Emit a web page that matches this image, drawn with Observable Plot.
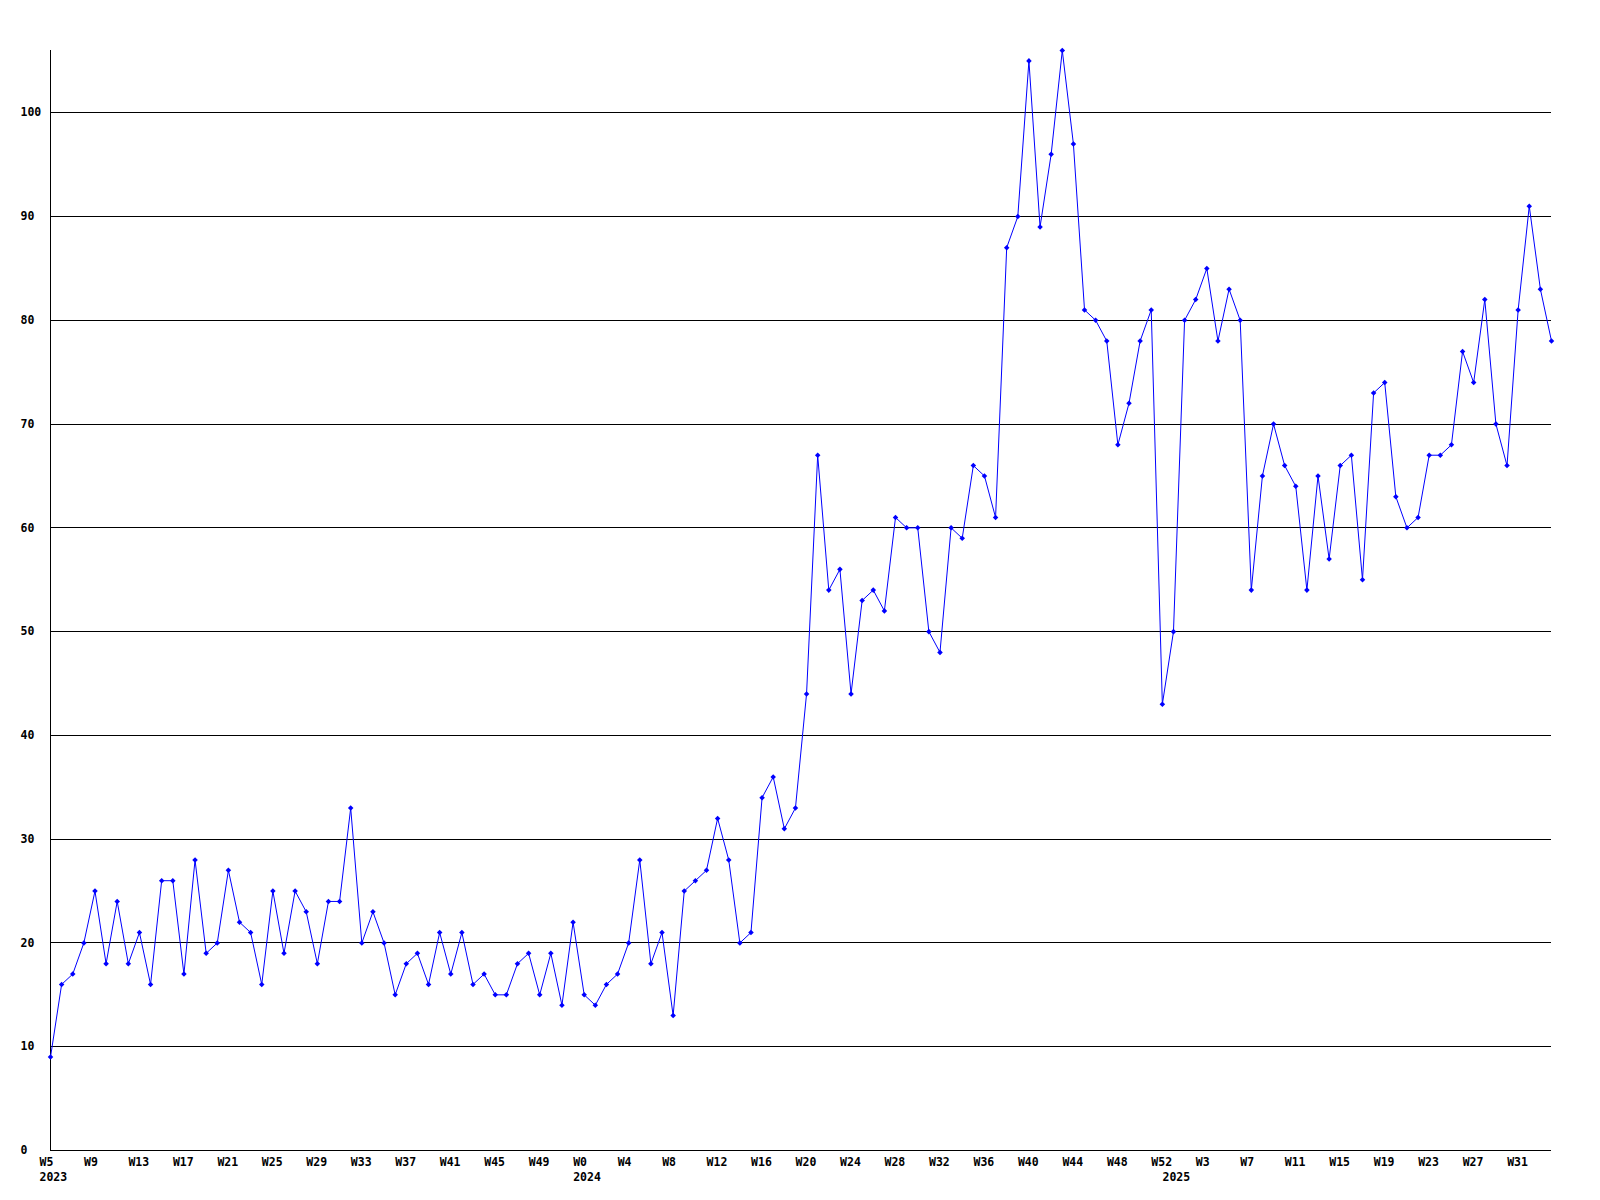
<!DOCTYPE html>
<html>
<head>
<meta charset="utf-8">
<script src="https://cdn.jsdelivr.net/npm/d3@7"></script>
<script src="https://cdn.jsdelivr.net/npm/@observablehq/plot@0.6"></script>
<style>
  body { margin: 0; background: #ffffff; }
</style>
</head>
<body>
<div id="chart"></div>
<script>
// Weekly values, one per week starting 2023 W5
const values = [
  9, 16, 17, 20, 25, 18, 24, 18, 21, 16, 26, 26, 17, 28, 19, 20, 27, 22, 21, 16, 25, 19, 25, 23, 18, 24, 24, 33, 20, 23, 20, 15,
  18, 19, 16, 21, 17, 21, 16, 17, 15, 15, 18, 19, 15, 19, 14, 22, 15, 14, 16, 17, 20, 28, 18, 21, 13, 25, 26, 27, 32, 28, 20, 21, 34, 36,
  31, 33, 44, 67, 54, 56, 44, 53, 54, 52, 61, 60, 60, 50, 48, 60, 59, 66, 65, 61,
  87, 90, 105, 89, 96, 106, 97, 81, 80, 78, 68, 72, 78, 81, 43, 50, 80, 82, 85,
  78, 83, 80, 54, 65, 70, 66, 64, 54, 65, 57, 66, 67, 55, 73, 74, 63, 60,
  61, 67, 67, 68, 77, 74, 82, 70, 66, 81, 91, 83, 78
];

// X tick labels, one every 4 weeks
const xTickLabels = [
  "W5", "W9", "W13", "W17", "W21", "W25", "W29", "W33", "W37", "W41", "W45", "W49",
  "W0", "W4", "W8", "W12", "W16", "W20", "W24", "W28", "W32", "W36", "W40", "W44", "W48", "W52",
  "W3", "W7", "W11", "W15", "W19", "W23", "W27", "W31"
];
const xTickStep = 4;

// Year labels and the week index where they sit
const yearLabels = ["2023", "2024", "2025"];
const yearLabelWeek = [0, 48, 101];

// Y ticks
const yTicks = [0, 10, 20, 30, 40, 50, 60, 70, 80, 90, 100];

const data = values.map((v, i) => ({ i, v }));
const xTicks = xTickLabels.map((label, k) => ({ i: k * xTickStep, label }));
const years = yearLabels.map((label, k) => ({ i: yearLabelWeek[k], label }));
const lastIndex = values.length - 1;
const yMax = d3.max(values);

const rhombus = {
  draw(context, size) {
    const s = Math.sqrt(size) * 0.78;
    context.moveTo(0, -s);
    context.lineTo(s, 0);
    context.lineTo(0, s);
    context.lineTo(-s, 0);
    context.closePath();
  }
};

const chart = Plot.plot({
  width: 1600,
  height: 1200,
  marginLeft: 50,
  marginRight: 49,
  marginTop: 50,
  marginBottom: 50,
  x: { domain: [0, lastIndex], axis: null },
  y: { domain: [0, yMax], axis: null },
  style: {
    fontFamily: "'DejaVu Sans Mono', monospace",
    fontSize: "11.5px",
    fontWeight: "bold",
    background: "#ffffff",
    overflow: "visible"
  },
  marks: [
    Plot.ruleY(yTicks.filter(d => d > 0), { x1: 0, x2: lastIndex, stroke: "#000000", strokeWidth: 1, strokeOpacity: 1, shapeRendering: "crispEdges" }),
    Plot.ruleX([0], { y1: 0, y2: yMax, stroke: "#000000", strokeWidth: 1, strokeOpacity: 1, shapeRendering: "crispEdges" }),
    Plot.ruleY([0], { x1: 0, x2: lastIndex, stroke: "#000000", strokeWidth: 1, strokeOpacity: 1, shapeRendering: "crispEdges" }),
    Plot.line(data, { x: "i", y: "v", stroke: "#0000ff", strokeWidth: 1 }),
    Plot.dot(data, { x: "i", y: "v", symbol: rhombus, r: 2, fill: "#0000ff", stroke: "none" }),
    Plot.text(yTicks, { x: 0, y: d => d, text: d => String(d), textAnchor: "start", dx: -30, fill: "#000000" }),
    Plot.text(xTicks, { x: "i", y: 0, text: "label", textAnchor: "start", dx: -11, dy: 12, fill: "#000000" }),
    Plot.text(years, { x: "i", y: 0, text: "label", textAnchor: "start", dx: -11, dy: 27, fill: "#000000" })
  ]
});

document.getElementById("chart").appendChild(chart);
</script>
</body>
</html>
